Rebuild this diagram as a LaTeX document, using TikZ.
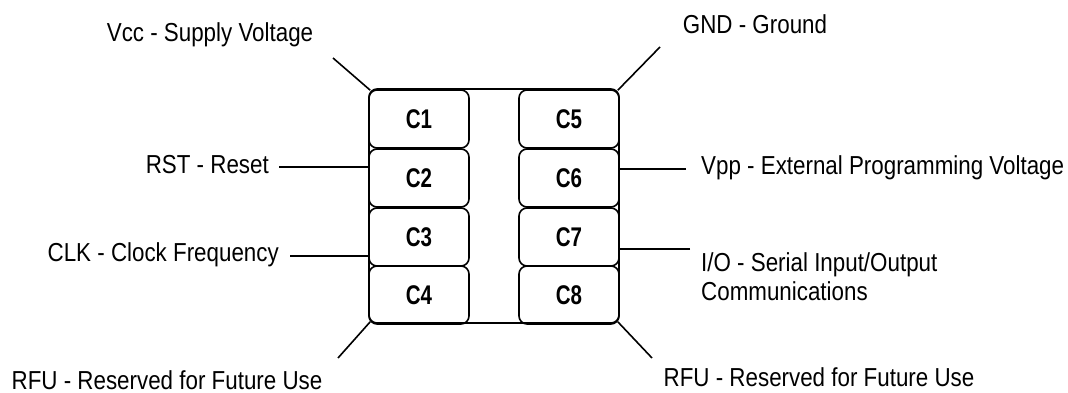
\documentclass[tikz,border=0pt]{standalone}
\usepackage{fontspec}
\newfontfamily\labfont[FakeStretch=0.86]{Liberation Sans}
\newfontfamily\padfont[FakeStretch=0.76]{Liberation Sans}
\begin{document}
\begin{tikzpicture}[x=1pt,y=-1pt,
  wire/.style={line width=1.6pt,black},
  pad/.style={draw,line width=1.6pt,rounded corners=8pt,minimum width=100pt,minimum height=58pt,inner sep=0pt,
     font=\padfont\bfseries\fontsize{27}{29}\selectfont},
  lab/.style={inner sep=0pt,font=\labfont\fontsize{26}{29}\selectfont}]
\useasboundingbox (0,0) rectangle (1068,393);
% card outline
\node[draw,line width=1.6pt,rounded corners=8pt,minimum width=250pt,minimum height=234pt,inner sep=0pt] (card) at (494,206) {};
% contacts
\node[pad] (c1) at (419,119) {C1};
\node[pad] (c2) at (419,178) {C2};
\node[pad] (c3) at (419,237) {C3};
\node[pad] (c4) at (419,295) {C4};
\node[pad] (c5) at (569,119) {C5};
\node[pad] (c6) at (569,178) {C6};
\node[pad] (c7) at (569,237) {C7};
\node[pad] (c8) at (569,295) {C8};
% labels
\node[lab] (vcc) at (210,35) {Vcc - Supply Voltage};
\node[lab,anchor=east] (rst) at (269,165) {RST - Reset};
\node[lab,anchor=east] (clk) at (279,255) {CLK - Clock Frequency};
\node[lab] (rfu1) at (167,380) {RFU - Reserved for Future Use};
\node[lab] (gnd) at (755,24) {GND - Ground};
\node[lab,anchor=west] (vpp) at (701,168) {Vpp - External Programming Voltage};
\node[lab,anchor=west,align=left] (io) at (701,277) {I/O - Serial Input/Output\\Communications};
\node[lab] (rfu2) at (819,377) {RFU - Reserved for Future Use};
% free ends
\coordinate (vccend) at (333,58);
\coordinate (rstend) at (279,167);
\coordinate (clkend) at (290,256);
\coordinate (rfu1end) at (338,358);
\coordinate (gndend) at (660,47);
\coordinate (vppend) at (686,169);
\coordinate (ioend) at (690,249);
\coordinate (rfu2end) at (652,358);
% connectors
\draw[wire] (vccend) -- ([shift={(2,2)}]card.north west);
\draw[wire] (rstend) -- (rstend -| card.west);
\draw[wire] (clkend) -- (clkend -| card.west);
\draw[wire] (rfu1end) -- ([shift={(2,-2)}]card.south west);
\draw[wire] (gndend) -- ([shift={(-2,2)}]card.north east);
\draw[wire] (vppend) -- (vppend -| card.east);
\draw[wire] (ioend) -- (ioend -| card.east);
\draw[wire] (rfu2end) -- ([shift={(-2,-2)}]card.south east);
\end{tikzpicture}
\end{document}
